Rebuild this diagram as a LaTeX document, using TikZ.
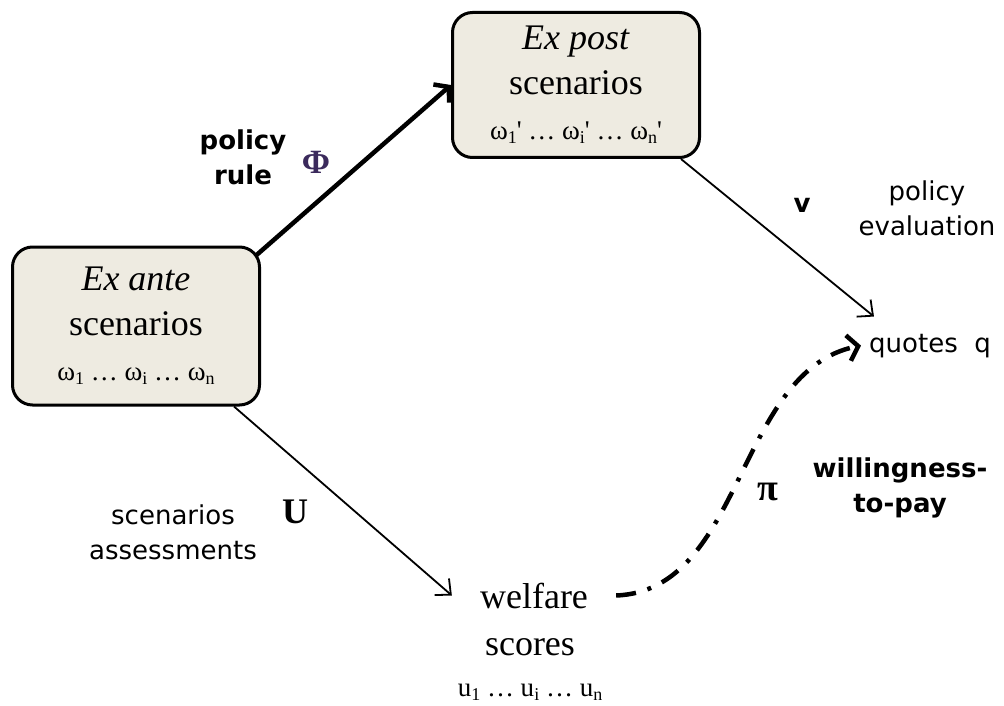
\documentclass[tikz,border=0pt]{standalone}
\usepackage{fontspec}
\setmainfont{Liberation Serif}
\newfontfamily\labelfont{DejaVu Sans}
\usetikzlibrary{arrows.meta}

\definecolor{boxfill}{HTML}{EEEBE1}
\definecolor{phicolor}{HTML}{3B2A5C}

\tikzset{
	scenbox/.style={draw, line width=3pt, rounded corners=20pt, fill=boxfill, align=center, minimum width=247pt, inner sep=0pt, font=\fontsize{36}{45}\selectfont},
	plaintext/.style={inner sep=2pt, font=\fontsize{36}{44}\selectfont},
	lbl/.style={align=center, inner sep=3pt, font=\labelfont\fontsize{26}{35}\selectfont},
	boldlbl/.style={align=center, inner sep=3pt, font=\labelfont\bfseries\fontsize{26}{35}\selectfont},
	thinarrow/.style={line width=1.8pt, -{Straight Barb[length=12pt,width=22pt]}},
	thickarrow/.style={line width=4.5pt, -{Straight Barb[length=10pt,width=24pt]}},
	dashdotarrow/.style={line width=4.5pt, dash pattern=on 20pt off 12pt on 4pt off 12pt, -{Straight Barb[length=10pt,width=26pt]}},
}
\newcommand{\lowsub}[1]{\raisebox{-0.35ex}{\fontsize{18}{18}\selectfont #1}}
\newcommand{\omegaline}[1]{{\fontsize{27}{27}\selectfont ω\lowsub{1}#1 … ω\lowsub{i}#1 … ω\lowsub{n}#1}}

\begin{document}
\begin{tikzpicture}[x=1pt, y=-1pt]
	\useasboundingbox (0,0) rectangle (1004,706);

	\node[scenbox, minimum height=158pt] (ante) at (136,326) {\textit{Ex ante}\\scenarios\\\omegaline{}};
	\node[scenbox, minimum height=145pt] (post) at (576,85) {\textit{Ex post}\\scenarios\\\omegaline{\textquotesingle}};

	\node[plaintext, anchor=base, inner xsep=28pt] (welfare) at (534,608) {welfare};
	\node[plaintext, anchor=base] (scores) at (530,655) {scores};
	\node[plaintext, anchor=base, font=\fontsize{27}{27}\selectfont] (uvec) at (530,696) {u\lowsub{1} … u\lowsub{i} … u\lowsub{n}};

	\node[lbl, anchor=base] (quotes) at (930,352) {quotes\ \ q};

	\node[boldlbl] (rule) at (243,157) {policy\\rule};
	\node[font=\bfseries\fontsize{34}{34}\selectfont, text=phicolor] (phi) at (316,162) {Φ};
	\node[boldlbl] (v) at (802,205) {v};
	\node[lbl] (evaluation) at (927,208) {policy\\evaluation};
	\node[boldlbl] (wtp) at (900,488) {willingness-\\to-pay};
	\node[font=\bfseries\fontsize{38}{38}\selectfont] (pi) at (768,492) {π};
	\node[lbl] (assess) at (173,532) {scenarios\\assessments};
	\node[font=\bfseries\fontsize{36}{36}\selectfont] (U) at (295,512) {U};

	\draw[thickarrow] ([shift={(-5,10)}]ante.north east) -- (post.west);
	\draw[thinarrow] ([shift={(-20,0)}]post.south east) -- ([shift={(8,-14)}]quotes.north west);
	\draw[thinarrow] ([shift={(-27,0)}]ante.south east) -- (welfare.west);
	\draw[dashdotarrow] (welfare.east) .. controls +(128,-5) and +(-125,25) .. ([xshift=-5pt]quotes.west);

\end{tikzpicture}
\end{document}
